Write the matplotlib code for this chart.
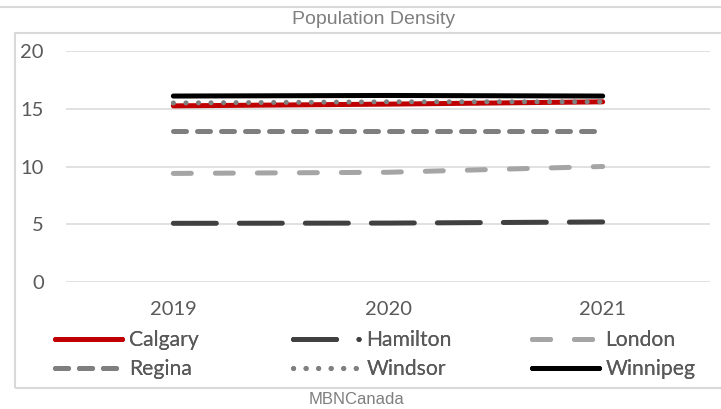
import matplotlib
matplotlib.use("Agg")
import matplotlib.pyplot as plt
from matplotlib.lines import Line2D

plt.rcParams['lines.scale_dashes'] = False

years = ["2019", "2020", "2021"]
calgary = [15.25, 15.4, 15.6]
hamilton = [5.08, 5.1, 5.2]
london = [9.4, 9.5, 10.0]
regina = [13.1, 13.1, 13.1]
windsor = [15.5, 15.6, 15.6]
winnipeg = [16.1, 16.15, 16.1]

W, H = 721, 409
fig = plt.figure(figsize=(W / 100, H / 100), dpi=100)
ax = fig.add_axes([66 / W, 1 - 282 / H, (710 - 66) / W, (282 - 51) / H])

px = 0.72  # points per pixel
lw = 5 * px
txt = "#595959"
tickfont = "Lato"

x = list(range(len(years)))
series = [
    ("Calgary", calgary, dict(color="#C00000", linestyle="-")),
    ("Hamilton", hamilton, dict(color="#404040", dashes=(43 * px, 23 * px))),
    ("London", london, dict(color="#A5A5A5", dashes=(18 * px, 24 * px))),
    ("Regina", regina, dict(color="#7F7F7F", dashes=(13 * px, 11 * px))),
    ("Windsor", windsor, dict(color="#808080", dashes=(0.1, 12.4 * px))),
    ("Winnipeg", winnipeg, dict(color="#000000", linestyle="-")),
]
for name, vals, st in series:
    ax.plot(x, vals, lw=lw, solid_capstyle="round", dash_capstyle="round", **st)

ax.set_xlim(-0.5, 2.5)
ax.set_ylim(0, 20)
ax.set_yticks([0, 5, 10, 15, 20])
ax.set_xticks(x)
ax.set_xticklabels(years)
for s in ax.spines.values():
    s.set_visible(False)
ax.grid(axis="y", color="#D9D9D9", lw=1.1)
ax.set_axisbelow(True)
ax.tick_params(axis="both", length=0, colors=txt, labelsize=14.5)
ax.tick_params(axis="y", pad=16)
ax.tick_params(axis="x", pad=14)
for lab in ax.get_xticklabels() + ax.get_yticklabels():
    lab.set_fontfamily(tickfont)

# frame lines
fig.add_artist(Line2D([0, 1], [1 - 7 / H, 1 - 7 / H], color="#D9D9D9", lw=1.5))
fig.add_artist(plt.Rectangle((15 / W, 1 - 388 / H), (721 - 15 + 5) / W, (388 - 33) / H,
                             fill=False, edgecolor="#D9D9D9", lw=1.5))

fig.text(374 / W, 1 - 20 / H, "Population Density", ha="center", va="center",
         color="#7F7F7F", fontsize=14, family="Liberation Sans")
fig.text(356 / W, 1 - 399.5 / H, "MBNCanada", ha="center", va="center",
         color="#7F7F7F", fontsize=12, family="Liberation Sans")

# legend
fs = 15.2
fs_px = fs * 100 / 72
handle_len = 67 / fs_px
legend_handles = {}
for name, vals, st in series:
    h = Line2D([], [], lw=lw, solid_capstyle="round", dash_capstyle="round", **st)
    legend_handles[name] = h
legend_handles["Hamilton"] = Line2D([], [], lw=lw, color="#404040", dash_capstyle="round",
                                    dashes=(43 * px, 22.5 * px, 0.1, 40 * px))
cols = [55.5, 292.5, 531.5]
rows = [340, 369]
order = ["Calgary", "Hamilton", "London", "Regina", "Windsor", "Winnipeg"]
for i, name in enumerate(order):
    cx = cols[i % 3]
    ry = rows[i // 3]
    leg = fig.legend(handles=[legend_handles[name]], labels=[name], loc="center left",
                     bbox_to_anchor=(cx / W, 1 - ry / H), frameon=False, borderpad=0,
                     borderaxespad=0, handlelength=handle_len, handletextpad=7.0 / fs_px,
                     prop=dict(family=tickfont, size=fs))
    for t in leg.get_texts():
        t.set_color(txt)
    fig.add_artist(leg)

fig.savefig("out.png", dpi=100)
